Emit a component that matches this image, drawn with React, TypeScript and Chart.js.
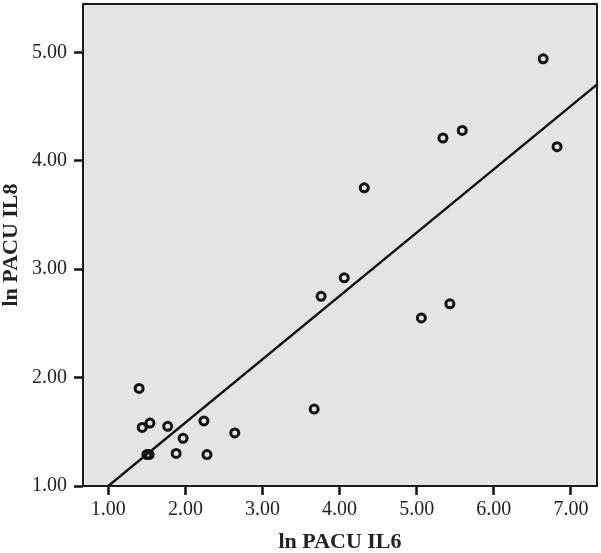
import React, { useEffect, useRef } from "react";
import { Chart, registerables } from "chart.js";

Chart.register(...registerables);

// Data
const IL6 = [1.40, 1.44, 1.54, 1.77, 2.24, 1.97, 2.64, 1.50, 1.53, 1.88, 2.28, 3.67, 3.76, 4.06, 4.32, 5.06, 5.43, 5.34, 5.59, 6.64, 6.82];
const IL8 = [1.90, 1.54, 1.58, 1.55, 1.60, 1.44, 1.49, 1.29, 1.29, 1.30, 1.29, 1.71, 2.75, 2.92, 3.75, 2.55, 2.68, 4.21, 4.28, 4.94, 4.13];

// Fit line endpoints (linear regression line as drawn)
const FIT_X = [1.0, 7.34];
const FIT_Y = [1.0, 4.705];

const X_TICKS = [1, 2, 3, 4, 5, 6, 7];
const Y_TICKS = [1, 2, 3, 4, 5];
const X_TITLE = "ln PACU IL6";
const Y_TITLE = "ln PACU IL8";

const FONT = "'Liberation Serif', 'Times New Roman', serif";

const framePlugin = {
  id: "frame",
  beforeDatasetsDraw(chart: any) {
    const { ctx, chartArea: a } = chart;
    ctx.save();
    ctx.fillStyle = "#e4e4e4";
    ctx.fillRect(a.left, a.top, a.right - a.left, a.bottom - a.top);
    ctx.restore();
  },
  afterDraw(chart: any) {
    const { ctx, chartArea: a } = chart;
    ctx.save();
    ctx.strokeStyle = "#1a1a1a";
    ctx.lineWidth = 2;
    ctx.strokeRect(a.left, a.top, a.right - a.left, a.bottom - a.top);
    ctx.restore();
  },
};

export default function App() {
  const ref = useRef<HTMLCanvasElement | null>(null);

  useEffect(() => {
    if (!ref.current) return;
    const chart = new Chart(ref.current, {
      type: "scatter",
      data: {
        datasets: [
          {
            type: "scatter",
            data: IL6.map((x, i) => ({ x, y: IL8[i] })),
            pointStyle: "circle",
            pointRadius: 4,
            pointBorderWidth: 3,
            borderColor: "#111",
            backgroundColor: "rgba(0,0,0,0)",
            pointHoverRadius: 4,
          },
          {
            type: "line",
            data: FIT_X.map((x, i) => ({ x, y: FIT_Y[i] })),
            borderColor: "#111",
            borderWidth: 2.4,
            pointRadius: 0,
            fill: false,
            tension: 0,
          } as any,
        ],
      },
      options: {
        animation: false,
        responsive: true,
        maintainAspectRatio: false,
        events: [],
        layout: { autoPadding: false, padding: { top: 4, right: 4, left: 0, bottom: 0 } },
        plugins: {
          legend: { display: false },
          tooltip: { enabled: false },
        },
        scales: {
          x: {
            type: "linear",
            min: 0.672,
            max: 7.338,
            afterBuildTicks: (s: any) => {
              s.ticks = X_TICKS.map((v) => ({ value: v }));
            },
            afterFit: (s: any) => {
              s.height = 67;
              s.paddingLeft = 0;
              s.paddingRight = 0;
            },
            border: { display: false },
            grid: {
              drawOnChartArea: false,
              drawTicks: true,
              tickLength: 9,
              tickWidth: 2.5,
              tickColor: "#111",
            },
            ticks: {
              padding: 3,
              color: "#222",
              font: { family: FONT, size: 20 },
              callback: (v: any) => Number(v).toFixed(2),
            },
            title: {
              display: true,
              text: X_TITLE,
              color: "#222",
              font: { family: FONT, size: 22, weight: "bold", lineHeight: 1 },
              padding: { top: 0, bottom: 0 },
            },
          },
          y: {
            type: "linear",
            min: 1,
            max: 5.446,
            afterBuildTicks: (s: any) => {
              s.ticks = Y_TICKS.map((v) => ({ value: v }));
            },
            afterFit: (s: any) => {
              s.width = 83;
              s.paddingTop = 0;
              s.paddingBottom = 0;
            },
            border: { display: false },
            grid: {
              drawOnChartArea: false,
              drawTicks: true,
              tickLength: 9,
              tickWidth: 2.5,
              tickColor: "#111",
            },
            ticks: {
              padding: 7,
              color: "#222",
              font: { family: FONT, size: 20 },
              callback: (v: any) => Number(v).toFixed(2),
            },
            title: {
              display: true,
              text: Y_TITLE,
              color: "#222",
              font: { family: FONT, size: 22, weight: "bold", lineHeight: 1 },
              padding: { top: 0, bottom: 0 },
            },
          },
        },
      },
      plugins: [framePlugin],
    });
    return () => chart.destroy();
  }, []);

  return (
    <div style={{ position: "fixed", left: 0, top: 0, width: 601, height: 553, background: "#fff" }}>
      <canvas ref={ref} />
    </div>
  );
}
